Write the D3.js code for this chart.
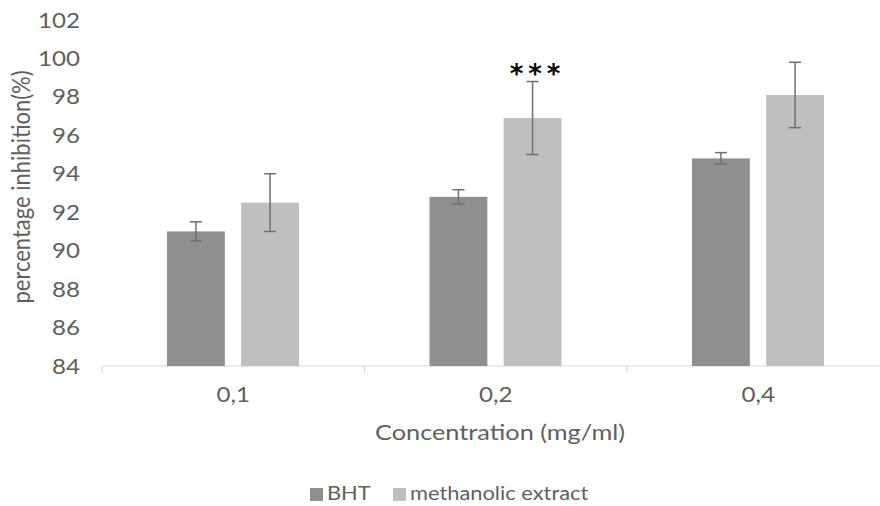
<!DOCTYPE html>
<html><head><meta charset="utf-8">
<script src="https://cdn.jsdelivr.net/npm/d3@7"></script>
<style>body{margin:0;background:#fff}svg{display:block}text{font-family:Lato,"Open Sans",sans-serif;fill:#5f5f5f}</style>
</head><body><div id="chart"></div>
<script>
const categories = ["0,1", "0,2", "0,4"];
const seriesNames = ["BHT", "methanolic extract"];
const bhtValues = [91.0, 92.8, 94.8];
const bhtErrors = [0.5, 0.37, 0.3];
const extractValues = [92.5, 96.9, 98.1];
const extractErrors = [1.5, 1.9, 1.7];
const yTicks = [84, 86, 88, 90, 92, 94, 96, 98, 100, 102];
const significance = ["", "***", ""];

const W = 880, H = 506;
const SX = 1.15;
const colors = {"BHT": "#8f8f8f", "methanolic extract": "#bfbfbf"};
const svg = d3.select("#chart").append("svg").attr("width", W).attr("height", H);

const y = d3.scaleLinear().domain([84, 102]).range([366, 20]);
const x0 = d3.scaleBand().domain(categories).range([102, 889.5]).padding(0);
const x1 = d3.scaleBand().domain(seriesNames).range([65, 197]).paddingInner(0.22).paddingOuter(0);

const data = categories.map((c, i) => ({
  cat: c,
  sig: significance[i],
  vals: [
    {s: "BHT", v: bhtValues[i], e: bhtErrors[i]},
    {s: "methanolic extract", v: extractValues[i], e: extractErrors[i]}
  ]
}));

// y tick labels
svg.append("g").selectAll("text").data(yTicks).join("text")
  .attr("transform", d => `translate(80,${y(d)}) scale(${SX},1)`).attr("dy", "0.36em")
  .attr("text-anchor", "end").style("font-size", "21px").text(d => d);

// x axis line and ticks
const xa = svg.append("g");
xa.append("line").attr("x1", 102).attr("x2", W).attr("y1", 366).attr("y2", 366)
  .attr("stroke", "#d9d9d9").attr("stroke-width", 1.2);
xa.selectAll("line.tk").data(categories.map(c => x0(c))).join("line").attr("class", "tk")
  .attr("x1", d => d).attr("x2", d => d).attr("y1", 366).attr("y2", 373)
  .attr("stroke", "#d9d9d9").attr("stroke-width", 1.2);

// bars
const g = svg.append("g").selectAll("g").data(data).join("g")
  .attr("transform", d => `translate(${x0(d.cat)},0)`);
g.selectAll("rect").data(d => d.vals).join("rect")
  .attr("x", d => x1(d.s)).attr("width", x1.bandwidth())
  .attr("y", d => y(d.v)).attr("height", d => y(84) - y(d.v))
  .attr("fill", d => colors[d.s]);

// error bars
const eb = g.selectAll("g.err").data(d => d.vals).join("g").attr("class", "err")
  .attr("stroke", "#707070").attr("stroke-width", 1.5);
const cx = d => x1(d.s) + x1.bandwidth()/2;
eb.append("line").attr("x1", cx).attr("x2", cx)
  .attr("y1", d => y(d.v + d.e)).attr("y2", d => y(d.v - d.e));
eb.append("line").attr("x1", d => cx(d) - 6).attr("x2", d => cx(d) + 6)
  .attr("y1", d => y(d.v + d.e)).attr("y2", d => y(d.v + d.e));
eb.append("line").attr("x1", d => cx(d) - 6).attr("x2", d => cx(d) + 6)
  .attr("y1", d => y(d.v - d.e)).attr("y2", d => y(d.v - d.e));

// significance
g.append("text").attr("x", x1("methanolic extract") + x1.bandwidth()/2 + 5)
  .attr("y", d => y(d.vals[1].v + d.vals[1].e) + 1)
  .attr("text-anchor", "middle").style("font-size", "26px").style("font-weight", "bold")
  .style("fill", "#000").style("font-family", "'DejaVu Sans',sans-serif").style("letter-spacing", "5px")
  .text(d => d.sig);

// x tick labels
svg.append("g").selectAll("text").data(categories).join("text")
  .attr("transform", d => `translate(${x0(d) + x0.bandwidth()/2},402) scale(${SX},1)`)
  .attr("text-anchor", "middle").style("font-size", "21px").text(d => d);

// axis titles
svg.append("text").attr("transform", `translate(500,440) scale(${SX},1)`).attr("text-anchor", "middle")
  .style("font-size", "22px").text("Concentration (mg/ml)");
svg.append("text").attr("transform", `translate(30,187) scale(${SX},1) rotate(-90)`).attr("text-anchor", "middle")
  .style("font-size", "22px").text("percentage inhibition(%)");

// legend
const leg = svg.append("g");
const legX = [310, 393];
seriesNames.forEach((s, i) => {
  leg.append("rect").attr("x", legX[i]).attr("y", 488).attr("width", 13).attr("height", 13).attr("fill", colors[s]);
  leg.append("text").attr("transform", `translate(${legX[i] + 17},500) scale(${SX},1)`)
    .style("font-size", "19px").text(s);
});
</script></body></html>
